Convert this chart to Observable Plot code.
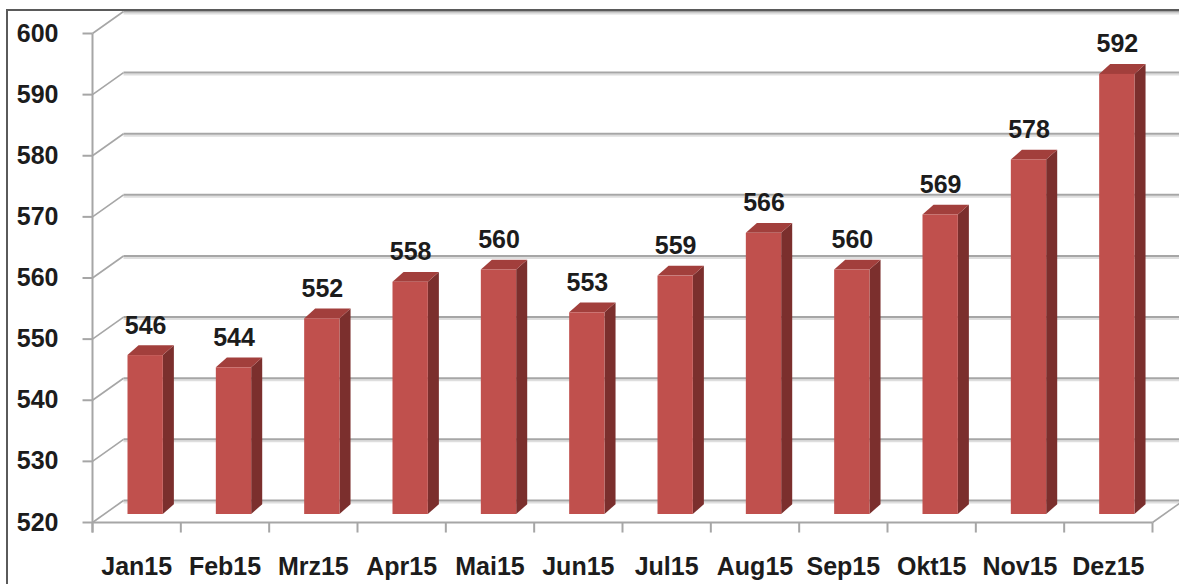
<!DOCTYPE html>
<html>
<head>
<meta charset="utf-8">
<script src="https://cdn.jsdelivr.net/npm/d3@7"></script>
<script src="https://cdn.jsdelivr.net/npm/@observablehq/plot@0.6"></script>
<style>
  html, body { margin: 0; padding: 0; background: #fff; }
  #wrap { position: relative; width: 1179px; height: 584px; overflow: hidden; }
  #border { position: absolute; left: 6px; top: 9px; width: 1300px; height: 700px;
            border-left: 2px solid #5a5a5a; border-top: 2px solid #5a5a5a; pointer-events: none; }
</style>
</head>
<body>
<div id="wrap"><div id="border"></div></div>
<script>
// ---- data ----
const months = ["Jan15","Feb15","Mrz15","Apr15","Mai15","Jun15","Jul15","Aug15","Sep15","Okt15","Nov15","Dez15"];
const values = [546, 544, 552, 558, 560, 553, 559, 566, 560, 569, 578, 592];
const yTicks = [520, 530, 540, 550, 560, 570, 580, 590, 600];

// ---- 3D styling constants (in scale units) ----
const WALL_X = 0.351, WALL_Y = 3.6;   // depth of the chart walls
const BAR_L = 0.3, BAR_R = 0.7;        // front face within a category slot
const SIDE_X = 0.125, SIDE_Y = 1.6;    // depth of each bar
const TICK_X = 0.113, TICK_Y = 1.64;   // tick lengths
const BASE = yTicks[0];
const TOPV = yTicks[yTicks.length - 1];
const n = months.length;
const K = v => () => v;                // constant accessor

const bars = values.map((v, i) => ({i, v, m: months[i]}));
const sideFaces = bars.flatMap(d => [
  {z: d.i, x: d.i + BAR_R, y1: BASE, y2: d.v},
  {z: d.i, x: d.i + BAR_R + SIDE_X, y1: BASE + SIDE_Y, y2: d.v + SIDE_Y}
]);
const topFaces = bars.flatMap(d => [
  {z: d.i, y: d.v, x1: d.i + BAR_L, x2: d.i + BAR_R},
  {z: d.i, y: d.v + SIDE_Y, x1: d.i + BAR_L + SIDE_X, x2: d.i + BAR_R + SIDE_X}
]);

const grid = "#a6a6a6";
const font = "'Liberation Sans', Arial, sans-serif";
const ink = "#1c1c1c";

const chart = Plot.plot({
  width: 1179,
  height: 584,
  marginLeft: 92,
  marginRight: 27,
  marginTop: 33,
  marginBottom: 62,
  x: {domain: [0, n], axis: null},
  y: {domain: [BASE, TOPV], axis: null},
  style: {background: "transparent", overflow: "visible"},
  marks: [
    // back wall gridlines (soft shadow + line)
    Plot.link(yTicks, {x1: K(WALL_X), x2: K(n + WALL_X), y1: d => d + WALL_Y, y2: d => d + WALL_Y, dy: 2, stroke: "#dedede", strokeWidth: 2}),
    Plot.link(yTicks, {x1: K(WALL_X), x2: K(n + WALL_X), y1: d => d + WALL_Y, y2: d => d + WALL_Y, stroke: grid, strokeWidth: 2}),
    // left wall diagonals
    Plot.link(yTicks, {x1: K(0), x2: K(WALL_X), y1: d => d, y2: d => d + WALL_Y, stroke: grid, strokeWidth: 1.6}),
    // floor front edge and right edge
    Plot.link([BASE], {x1: K(0), x2: K(n), y1: d => d, y2: d => d, stroke: grid, strokeWidth: 2}),
    Plot.link([BASE], {x1: K(n), x2: K(n + WALL_X), y1: d => d, y2: d => d + WALL_Y, stroke: grid, strokeWidth: 1.6}),
    // front vertical axis
    Plot.link([0], {x1: d => d, x2: d => d, y1: K(BASE - TICK_Y), y2: K(TOPV), stroke: grid, strokeWidth: 2}),
    // y ticks and labels
    Plot.link(yTicks, {x1: K(-TICK_X), x2: K(0), y1: d => d, y2: d => d, stroke: grid, strokeWidth: 2}),
    Plot.text(yTicks, {x: K(0), y: d => d, dx: -34, text: d => String(d), textAnchor: "end",
      fontSize: 25, fontWeight: "bold", fontFamily: font, fill: ink}),
    // x ticks
    Plot.link(d3.range(n + 1), {x1: d => d, x2: d => d, y1: K(BASE), y2: K(BASE - TICK_Y), stroke: grid, strokeWidth: 2}),
    // x labels
    Plot.text(months, {x: (d, i) => i + 0.5, y: K(BASE), dy: 44, text: d => d,
      fontSize: 25, fontWeight: "bold", fontFamily: font, fill: ink}),
    // bars: side, top, front
    Plot.areaY(sideFaces, {x: "x", y1: "y1", y2: "y2", z: "z", fill: "#7b2f2d", dx: 9, dy: -8}),
    Plot.areaX(topFaces, {y: "y", x1: "x1", x2: "x2", z: "z", fill: "#a23f3c", dx: 9, dy: -8}),
    Plot.rectY(bars, {x1: d => d.i + BAR_L, x2: d => d.i + BAR_R, y1: K(BASE), y2: "v", fill: "#c0504d", dx: 9, dy: -8}),
    // value labels
    Plot.text(bars, {x: d => d.i + 0.5, y: "v", dx: 9, dy: -38, text: d => String(d.v),
      fontSize: 25, fontWeight: "bold", fontFamily: font, fill: ink})
  ]
});
document.getElementById("wrap").prepend(chart);
</script>
</body>
</html>
